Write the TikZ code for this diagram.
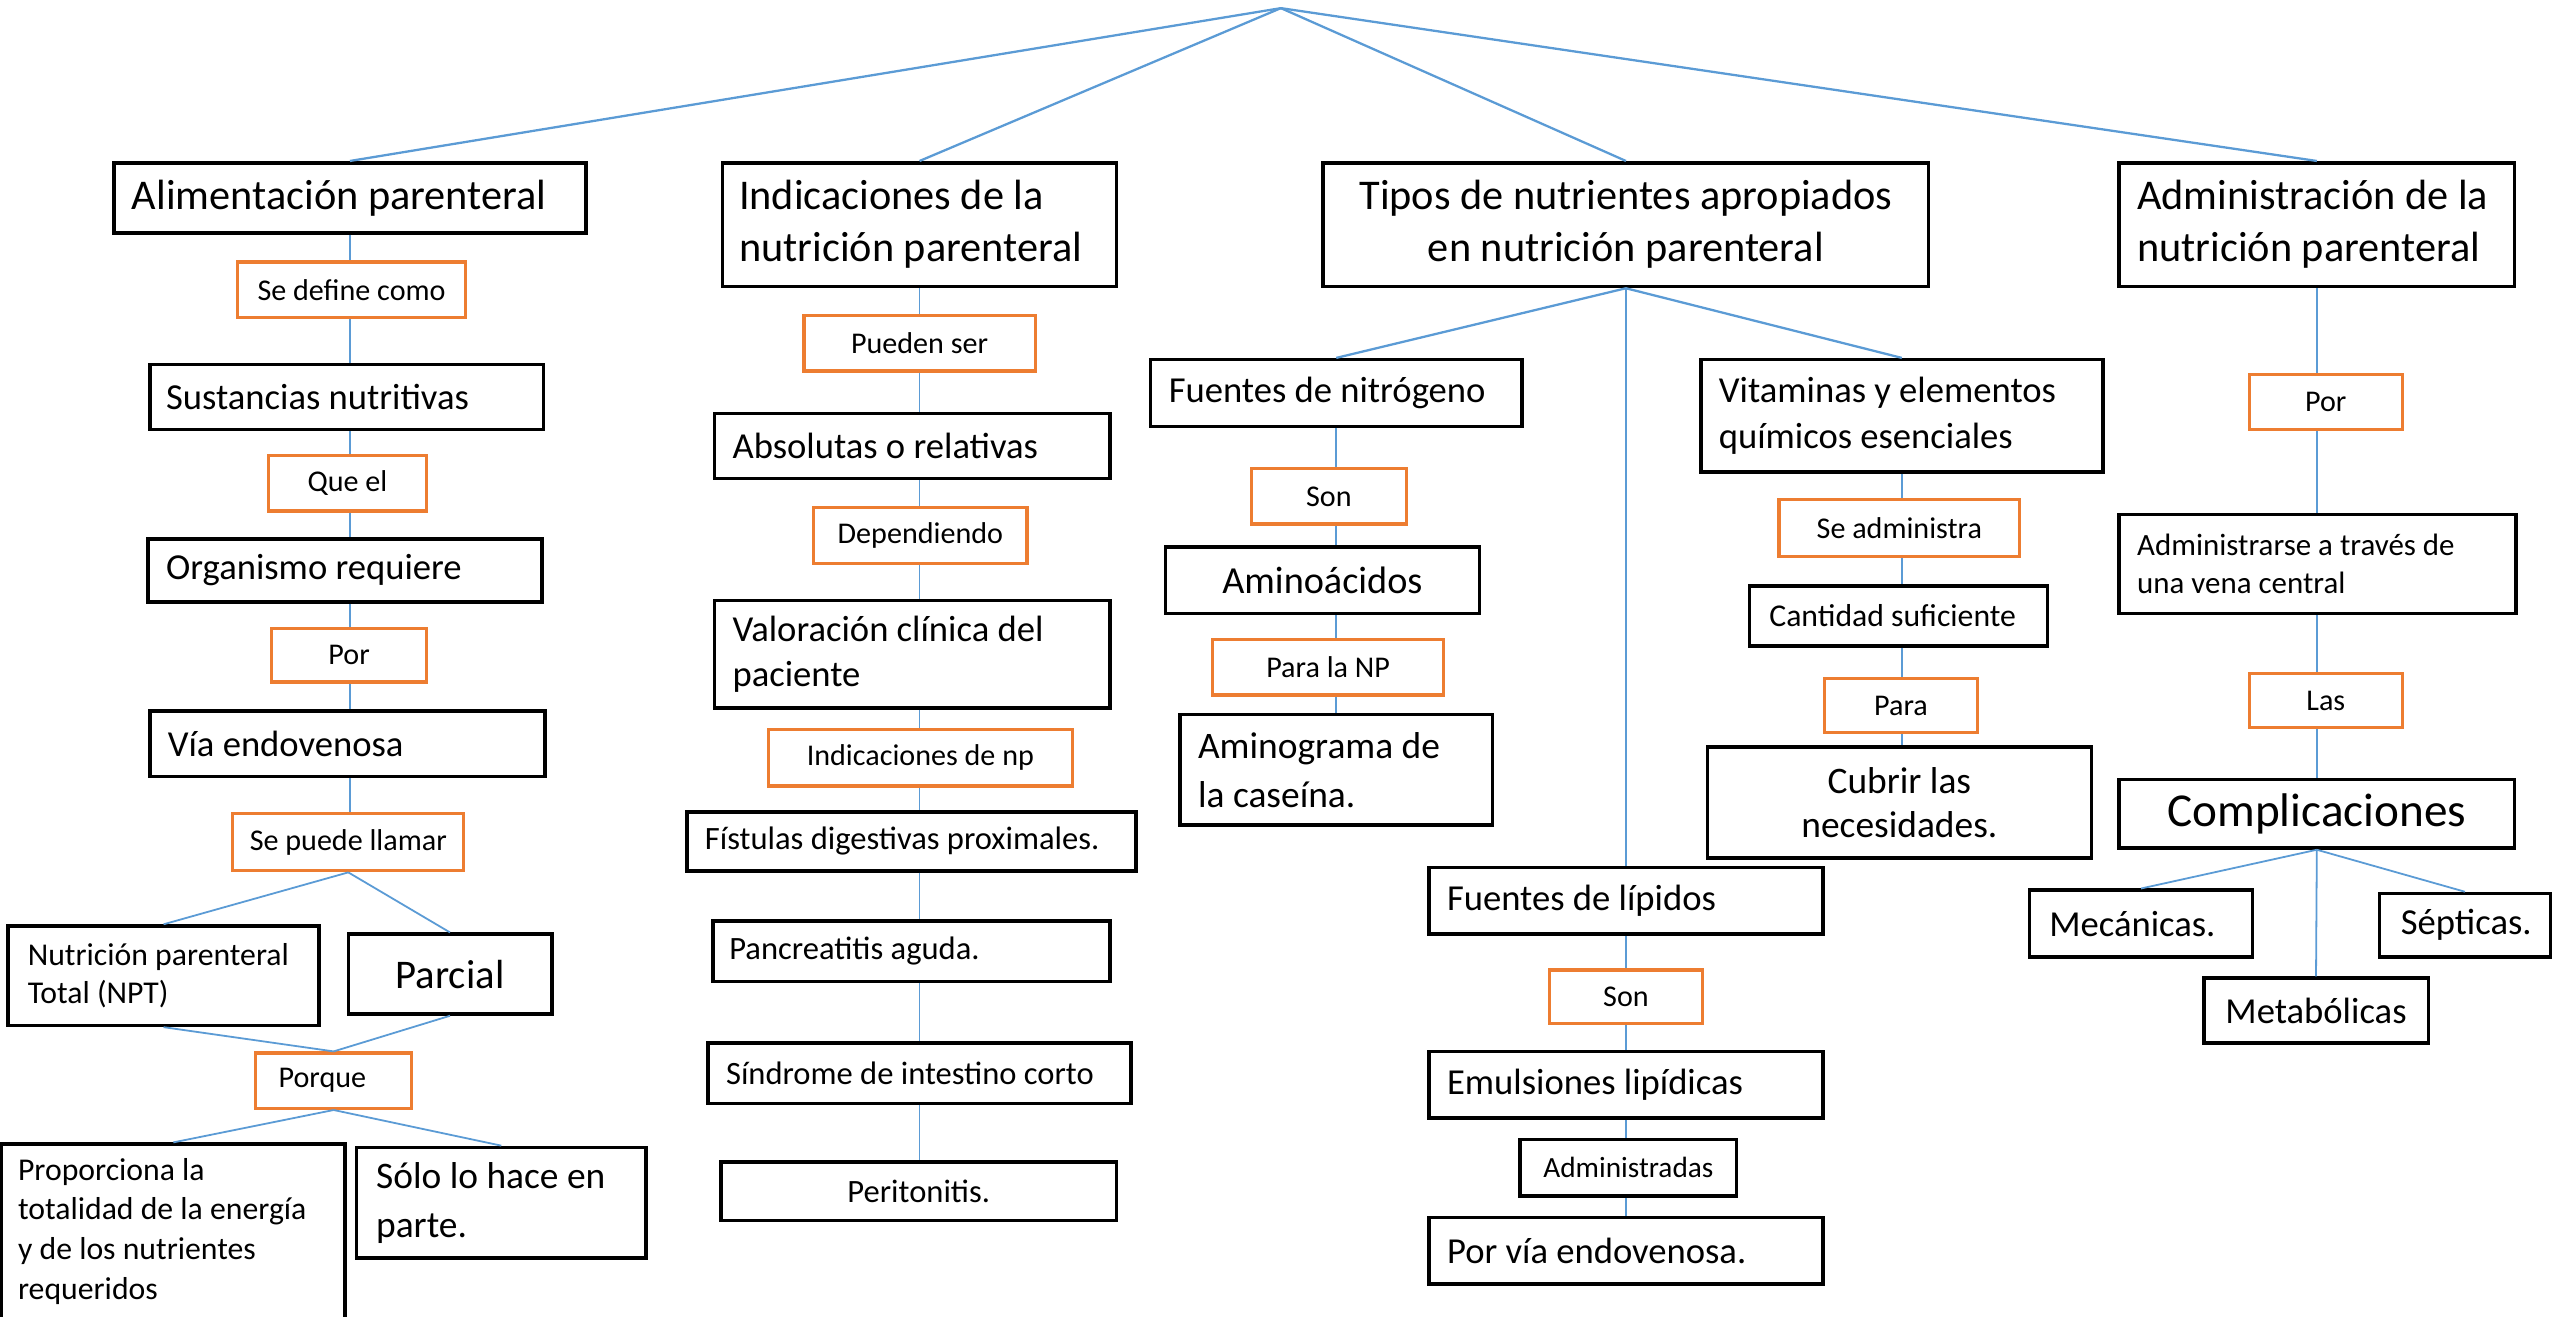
\documentclass[tikz,border=0pt]{standalone}
\usepackage{fontspec}
\setmainfont{Carlito}
\definecolor{cblue}{HTML}{5B9BD5}
\definecolor{corange}{HTML}{ED7D31}
\tikzset{
 blk/.style={draw=black, line width=2.2pt, rectangle, inner sep=0pt},
 org/.style={draw=corange, line width=2pt, rectangle, inner sep=0pt},
 txt/.style={inner sep=0pt, align=left, text=black},
 con/.style={draw=cblue, line width=1.1pt},
 conb/.style={draw=cblue, line width=1.4pt},
}
\newcommand\fz[2]{\fontsize{#1}{#2}\selectfont}
\newcommand\fo{\fz{18.5}{22}}
\newcommand\fs{\fz{22.5}{28}}
% left-aligned text box: name, x1, y1, x2, y2, style, font, pad, text
\newcommand\lbox[9]{%
 \pgfmathsetmacro\bw{#4-#2}\pgfmathsetmacro\bh{#5-#3}%
 \node[#6, minimum width=\bw pt, minimum height=\bh pt] (#1) at ({(#2+#4)/2},{(#3+#5)/2}) {};
 \node[txt, font=#7, anchor=west] (#1t) at ([xshift=#8pt]#1.west) {#9};
}
% centered text box: name, x1, y1, x2, y2, style, font, text
\newcommand\cbox[8]{%
 \pgfmathsetmacro\bw{#4-#2}\pgfmathsetmacro\bh{#5-#3}%
 \node[#6, font=#7, align=center, minimum width=\bw pt, minimum height=\bh pt] (#1) at ({(#2+#4)/2},{(#3+#5)/2}) {#8};
}
\newcommand\vseg[3]{\draw[con] (#1.south -| #3) -- (#2.north -| #3);}
\begin{document}
\begin{tikzpicture}[x=1pt,y=-1pt]
\useasboundingbox (0,0) rectangle (1568,809);
% column 1
\lbox{A1}{70}{100}{360}{143}{blk}{\fz{26}{32}}{12}{Alimentación parenteral}
\cbox{o11}{146}{161}{286}{195}{org}{\fo}{Se define como}
\lbox{A2}{92}{224}{334}{264}{blk}{\fs}{11}{Sustancias nutritivas}
\cbox{o12}{165}{280}{262}{314}{org}{\fo}{Que el}
\lbox{A3}{91}{331}{333}{370}{blk}{\fs}{12}{Organismo requiere}
\cbox{o13}{167}{386}{262}{419}{org}{\fo}{Por}
\lbox{A4}{92}{437}{335}{477}{blk}{\fs}{12}{Vía endovenosa}
\cbox{o14}{143}{500}{285}{535}{org}{\fo}{Se puede llamar}
\lbox{A5}{5}{569}{196}{630}{blk}{\fz{19.5}{23}}{13}{Nutrición parenteral\\Total (NPT)}
\cbox{A6}{214}{574}{339}{623}{blk}{\fz{25}{30}}{Parcial}
\lbox{o15}{157}{647}{253}{681}{org}{\fo}{15}{Porque}
\lbox{A7}{1}{703}{212}{810}{blk}{\fz{19.5}{24.3}}{11}{Proporciona la\\totalidad de la energía\\y de los nutrientes\\requeridos}
\lbox{A8}{219}{705}{397}{773}{blk}{\fz{23}{30}}{13}{Sólo lo hace en\\parte.}
% column 2
\lbox{B1}{444}{100}{686}{176}{blk}{\fz{26}{32}}{11}{Indicaciones de la\\nutrición parenteral}
\cbox{o21}{494}{194}{636}{228}{org}{\fo}{Pueden ser}
\lbox{B2}{439}{254}{682}{294}{blk}{\fs}{12}{Absolutas o relativas}
\cbox{o22}{500}{312}{631}{346}{org}{\fo}{Dependiendo}
\lbox{B3}{439}{369}{682}{435}{blk}{\fs}{12}{Valoración clínica del\\paciente}
\cbox{o23}{472}{448}{659}{483}{org}{\fo}{Indicaciones de np}
\lbox{B4}{422}{499}{698}{535}{blk}{\fz{20}{24}}{12}{Fístulas digestivas proximales.}
\lbox{B5}{438}{566}{682}{603}{blk}{\fz{20}{24}}{11}{Pancreatitis aguda.}
\lbox{B6}{435}{641}{695}{678}{blk}{\fz{20}{24}}{12}{Síndrome de intestino corto}
\cbox{B7}{443}{714}{686}{750}{blk}{\fz{20}{24}}{Peritonitis.}
% column 3
\cbox{C1}{813}{100}{1185}{176}{blk}{\fz{26}{32}}{Tipos de nutrientes apropiados\\en nutrición parenteral}
\lbox{C2}{707}{221}{935}{262}{blk}{\fs}{12}{Fuentes de nitrógeno}
\cbox{o31}{769}{288}{864}{322}{org}{\fo}{Son}
\cbox{C3}{716}{336}{909}{377}{blk}{\fz{23.5}{28}}{Aminoácidos}
\cbox{o32}{745}{393}{887}{427}{org}{\fo}{Para la NP}
\lbox{C4}{725}{439}{917}{507}{blk}{\fz{23}{30}}{12}{Aminograma de\\la caseína.}
\lbox{C5}{1045}{221}{1292}{290}{blk}{\fs}{12}{Vitaminas y elementos\\químicos esenciales}
\cbox{o33}{1093}{307}{1241}{342}{org}{\fo}{Se administra}
\lbox{C6}{1075}{360}{1258}{397}{blk}{\fz{19.5}{24}}{13}{Cantidad suficiente}
\cbox{o34}{1121}{417}{1215}{450}{org}{\fo}{Para}
\cbox{C7}{1049}{459}{1285}{527}{blk}{\fz{23}{27}}{Cubrir las\\necesidades.}
\lbox{C8}{878}{533}{1120}{574}{blk}{\fs}{12}{Fuentes de lípidos}
\cbox{o35}{952}{596}{1046}{629}{org}{\fo}{Son}
\lbox{C9}{878}{646}{1120}{687}{blk}{\fs}{12}{Emulsiones lipídicas}
\cbox{C10}{934}{700}{1067}{735}{blk}{\fz{18}{22}}{Administradas}
\lbox{C11}{878}{748}{1120}{789}{blk}{\fs}{12}{Por vía endovenosa.}
% column 4
\lbox{D1}{1302}{100}{1545}{176}{blk}{\fz{26}{32}}{12}{Administración de la\\nutrición parenteral}
\cbox{o41}{1382}{230}{1476}{264}{org}{\fo}{Por}
\lbox{D2}{1302}{316}{1546}{377}{blk}{\fz{19}{23}}{12}{Administrarse a través de\\una vena central}
\cbox{o42}{1382}{414}{1476}{447}{org}{\fo}{Las}
\cbox{D3}{1302}{479}{1545}{521}{blk}{\fz{29}{34}}{Complicaciones}
\lbox{D4}{1247}{547}{1384}{588}{blk}{\fz{22.5}{27}}{13}{Mecánicas.}
\lbox{D5}{1462}{549}{1567}{588}{blk}{\fz{22.5}{27}}{14}{Sépticas.}
\cbox{D6}{1354}{601}{1492}{641}{blk}{\fz{22.5}{27}}{Metabólicas}
% connectors
\coordinate (top) at (787,5);
\draw[conb] (top) -- (A1.north);
\draw[conb] (top) -- (B1.north);
\draw[conb] (top) -- (C1.north);
\draw[conb] (top) -- (D1.north);
\vseg{A1}{o11}{A1}\vseg{o11}{A2}{A1}\vseg{A2}{o12}{A1}\vseg{o12}{A3}{A1}
\vseg{A3}{o13}{A1}\vseg{o13}{A4}{A1}\vseg{A4}{o14}{A1}
\draw[con] (o14.south) -- (A5.north);
\draw[con] (o14.south) -- (A6.north);
\draw[con] (A5.south) -- (o15.north);
\draw[con] (A6.south) -- (o15.north);
\draw[con] (o15.south) -- (A7.north);
\draw[con] (o15.south) -- (A8.north);
\vseg{B1}{o21}{B1}\vseg{o21}{B2}{B1}\vseg{B2}{o22}{B1}\vseg{o22}{B3}{B1}
\vseg{B3}{o23}{B1}\vseg{o23}{B4}{B1}\vseg{B4}{B5}{B1}\vseg{B5}{B6}{B1}\vseg{B6}{B7}{B1}
\draw[conb] (C1.south) -- (C2.north);
\draw[conb] (C1.south) -- (C5.north);
\draw[con] (C1.south) -- (C8.north);
\vseg{C2}{o31}{C2}\vseg{o31}{C3}{C2}\vseg{C3}{o32}{C2}\vseg{o32}{C4}{C2}
\vseg{C5}{o33}{C5}\vseg{o33}{C6}{C5}\vseg{C6}{o34}{C5}\vseg{o34}{C7}{C5}
\vseg{C8}{o35}{C8}\vseg{o35}{C9}{C8}\vseg{C9}{C10}{C8}\vseg{C10}{C11}{C8}
\vseg{D1}{o41}{D1}\vseg{o41}{D2}{D1}\vseg{D2}{o42}{D1}\vseg{o42}{D3}{D1}
\draw[con] (D3.south) -- (D4.north);
\draw[con] (D3.south) -- (D5.north);
\draw[con] (D3.south) -- (D6.north);
\end{tikzpicture}
\end{document}
